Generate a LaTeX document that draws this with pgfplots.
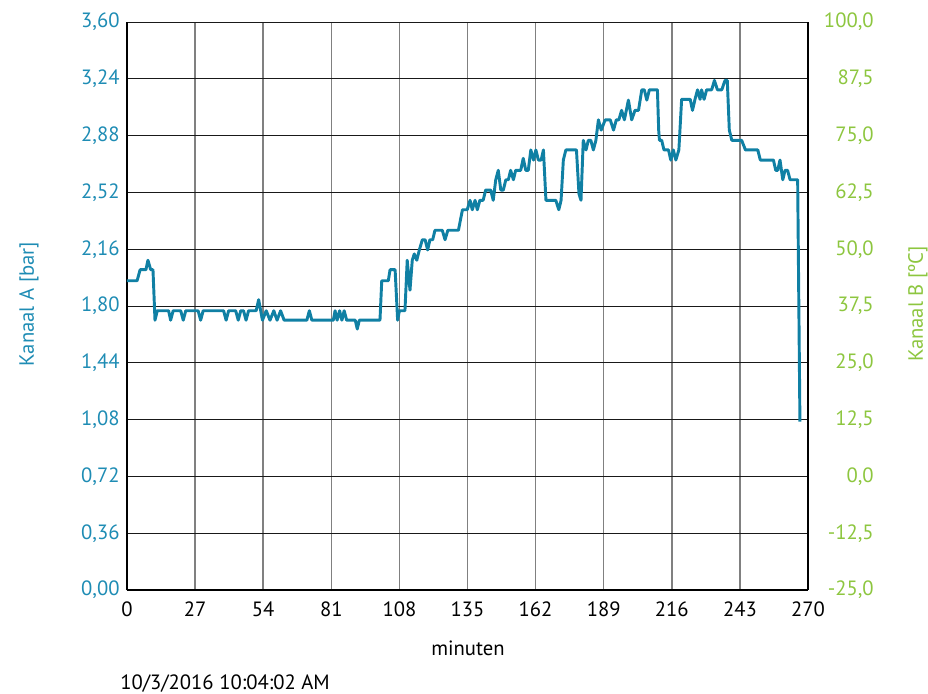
\documentclass[border=0pt]{standalone}
\usepackage{fontspec}
\setmainfont{PT Sans}
\usepackage{pgfplots}
\pgfplotsset{compat=1.18}
\definecolor{lineA}{RGB}{16,128,164}
\definecolor{labA}{RGB}{30,140,180}
\definecolor{labB}{RGB}{141,198,63}
\newcommand\cf{\fontsize{15.5}{18.6}\selectfont}
\begin{document}
\begin{tikzpicture}
\useasboundingbox (-95.25pt,-77.25pt) rectangle (600.75pt,442.5pt);
\begin{axis}[
  scale only axis, width=510.75pt, height=426pt,
  xmin=0, xmax=270, ymin=0, ymax=3.6,
  xtick={0,27,54,81,108,135,162,189,216,243,270},
  ytick={0,0.36,0.72,1.08,1.44,1.80,2.16,2.52,2.88,3.24,3.60},
  axis x line*=bottom, axis y line*=left,
  x axis line style={-, line width=1.5pt, black},
  y axis line style={-, line width=1.5pt, black},
  major tick length=0pt,
  grid=major,
  x grid style={black!50, line width=1.1pt},
  y grid style={black!90, line width=0.75pt},
  tick label style={font=\cf},
  /pgf/number format/assume math mode=true,
  xticklabel style={/pgf/number format/1000 sep={}, black, yshift=-5pt},
  yticklabel style={/pgf/number format/.cd, fixed, fixed zerofill, precision=2, use comma, /tikz/.cd, color=labA, xshift=-2pt},
  xlabel={minuten}, xlabel style={font=\cf, at={(axis description cs:0.5007,-0.102)}, anchor=center},
  ylabel={Kanaal A [bar]}, ylabel style={font=\cf, color=labA, at={(axis description cs:-0.1439,0.5035)}, anchor=center, rotate=0},
]
\addplot[lineA, line width=2.2pt, line join=round] coordinates {
(0,1.96) (4,1.96) (5.2,2.03) (7.5,2.03) (8.3,2.09) (9.4,2.03) (10.3,2.03) (11.1,1.71) (12,1.77)
(16.5,1.77) (17.3,1.71) (18.3,1.77) (21.3,1.77) (22.3,1.71) (23.3,1.77) (28.2,1.77) (29.2,1.71) (30.2,1.77)
(38.3,1.77) (39.3,1.71) (40.3,1.77) (43.1,1.77) (44.1,1.71) (45.1,1.77) (46.2,1.77) (47.2,1.71) (48.2,1.77)
(51.2,1.77) (52.2,1.84) (53.7,1.71) (55.2,1.77) (56.7,1.71) (58.2,1.77) (59.5,1.71) (60.9,1.77) (62.3,1.71)
(71.3,1.71) (72.3,1.77) (73.3,1.71) (81.8,1.71) (82.5,1.77) (83.3,1.71) (84.3,1.77) (85.2,1.71) (86.1,1.77) (87.1,1.71)
(90.5,1.71) (91.3,1.654) (92.1,1.71) (100.3,1.71) (101,1.96) (103.6,1.96) (104.3,2.03) (106.3,2.03) (107.3,1.71)
(108,1.77) (110.2,1.77) (111.1,2.09) (112.2,1.90) (113.1,2.09) (113.9,2.13) (114.9,2.09) (115.9,2.155) (117.1,2.22)
(118.2,2.22) (119.2,2.155) (120.1,2.22) (121.2,2.22) (122.1,2.28) (125,2.28) (126.1,2.22) (127.2,2.28) (131.4,2.28)
(133,2.41) (134.9,2.41) (136,2.47) (136.9,2.41) (138,2.47) (138.9,2.41) (139.9,2.47) (141.2,2.47) (142.2,2.535)
(144.2,2.535) (145.2,2.47) (146.2,2.60) (147.2,2.66) (148.2,2.535) (149.2,2.535) (150.2,2.60) (151.2,2.60) (152.1,2.66)
(153.2,2.60) (154.1,2.66) (156.1,2.66) (157.1,2.736) (158.1,2.66) (159.1,2.66) (160.1,2.789) (161.2,2.725) (162.1,2.789)
(163.1,2.725) (164.2,2.725) (165.1,2.789) (166.1,2.47) (170,2.47) (171.2,2.41) (172.1,2.47) (173,2.725) (174,2.789)
(178.2,2.789) (179.2,2.51) (180,2.47) (180.9,2.85) (182,2.789) (182.9,2.85) (183.9,2.85) (184.9,2.789) (185.9,2.85)
(186.9,2.98) (188,2.915) (189.6,2.98) (191.6,2.98) (192.9,2.915) (194,2.98) (195,2.98) (196.1,3.04) (197.2,2.98)
(198.8,3.105) (200.1,2.98) (201.4,3.04) (202.8,3.04) (204.1,3.17) (205.1,3.17) (206.1,3.105) (207.1,3.17) (210.3,3.17)
(210.8,2.915) (211.1,2.85) (212,2.85) (212.9,2.789) (214.7,2.789) (215.6,2.725) (216.6,2.789) (217.6,2.725) (218.8,2.789)
(219.9,3.11) (223.3,3.11) (224.2,3.04) (225.2,3.11) (226.2,3.17) (227.2,3.11) (227.8,3.17) (228.8,3.11) (229.8,3.17)
(231.8,3.17) (232.9,3.23) (234.1,3.17) (235.8,3.17) (237.1,3.23) (238,3.23) (238.8,2.915) (239.8,2.85) (243.7,2.85)
(245.2,2.789) (250.1,2.789) (251.1,2.725) (256.3,2.725) (257.2,2.66) (258,2.66) (258.9,2.725) (260,2.60) (260.9,2.66)
(261.9,2.66) (262.9,2.60) (265.9,2.60) (266.8,1.067)
};
\end{axis}
\begin{axis}[
  scale only axis, width=510.75pt, height=426pt,
  xmin=0, xmax=270, ymin=-25, ymax=100,
  ytick={-25,-12.5,0,12.5,25,37.5,50,62.5,75,87.5,100},
  axis x line=none, axis y line*=right,
  y axis line style={-, line width=1.5pt, black},
  major tick length=0pt,
  tick label style={font=\cf},
  /pgf/number format/assume math mode=true,
  yticklabel style={/pgf/number format/.cd, fixed, fixed zerofill, precision=1, use comma, /tikz/.cd, color=labB, anchor=east, xshift=52.8pt},
  ylabel={Kanaal B [ºC]}, ylabel style={font=\cf, color=labB, at={(axis description cs:1.1615,0.5035)}, anchor=center, rotate=0},
]
\addplot[draw=none] coordinates {(0,0) (270,50)};
\end{axis}
\node[anchor=base west, font=\cf, inner sep=0pt] at (-5.25pt,-74.25pt) {10/3/2016 10:04:02 AM};
\end{tikzpicture}
\end{document}
